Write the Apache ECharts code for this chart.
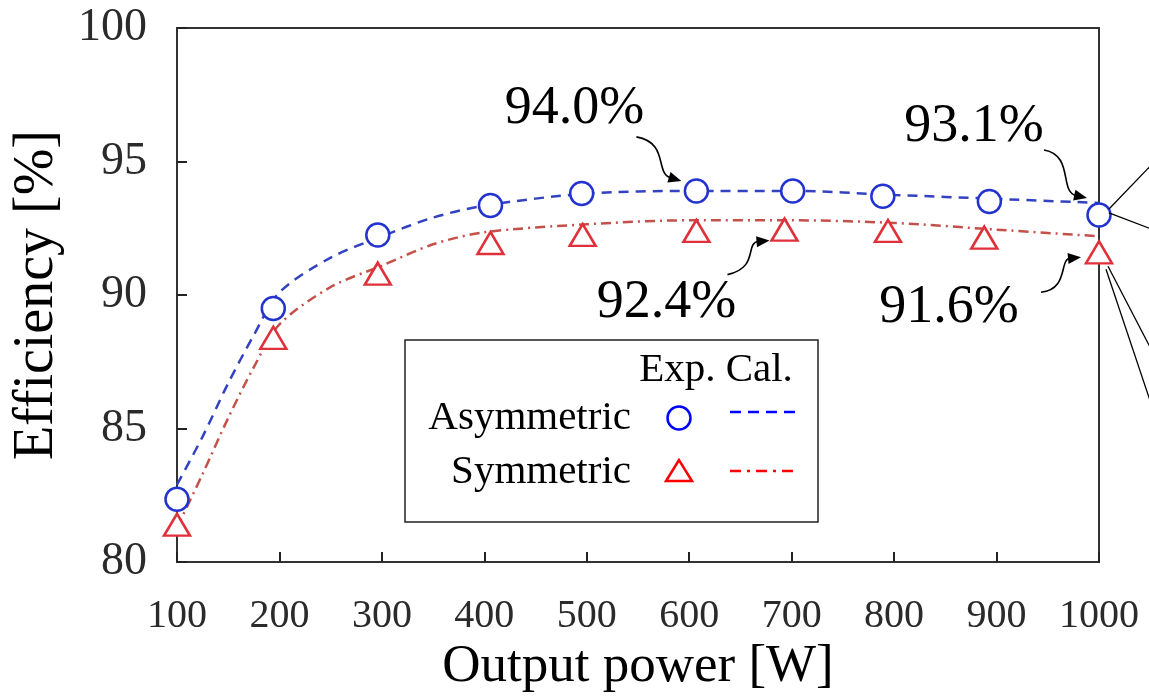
<!DOCTYPE html>
<html>
<head>
<meta charset="utf-8">
<script src="https://cdn.jsdelivr.net/npm/echarts@6/dist/echarts.min.js"></script>
<style>
body { margin: 0; background: #fff; }
#main { width: 1149px; height: 699px; }
</style>
</head>
<body>
<div id="main"></div>
<script>
// measured points (Exp.)
const asymExpX = [100, 194, 296, 406, 495, 607, 701, 789, 893, 1000];
const asymExp = [82.35, 89.5, 92.25, 93.35, 93.8, 93.9, 93.9, 93.7, 93.5, 93.0];
const symExpX = [100, 194, 296, 406, 496, 607, 693, 794, 888, 1000];
const symExp = [81.4, 88.4, 90.8, 91.95, 92.25, 92.4, 92.45, 92.4, 92.15, 91.6];

// calculated curves (Cal.)
const calcX = [100, 125, 150, 175, 200, 250, 300, 350, 400, 500, 600, 700, 800, 900, 1000];
const asymCalc = [82.9, 84.7, 86.7, 88.5, 90.1, 91.4, 92.2, 92.9, 93.35, 93.8, 93.9, 93.9, 93.75, 93.6, 93.45];
const symCalc = [81.3, 83.3, 85.4, 87.3, 88.9, 90.3, 91.1, 91.9, 92.35, 92.65, 92.8, 92.8, 92.7, 92.45, 92.2];

const xTicks = [100, 200, 300, 400, 500, 600, 700, 800, 900, 1000];
const yTicks = [80, 85, 90, 95, 100];

const FONT = '"Liberation Serif", "Times New Roman", serif';
const pairs = (xs, ys) => xs.map((x, i) => [x, ys[i]]);

let myChart = echarts.init(document.getElementById('main'));

myChart.setOption({
  animation: false,
  backgroundColor: '#fff',
  grid: {
    left: 177, right: 50, top: 28, bottom: 134,
    show: true, borderColor: '#333', borderWidth: 2
  },
  xAxis: {
    type: 'value',
    min: xTicks[0], max: xTicks[xTicks.length - 1], interval: 100,
    name: 'Output power [W]',
    nameLocation: 'middle', nameGap: 70,
    nameTextStyle: { fontFamily: FONT, fontSize: 53, color: '#000' },
    axisLine: { lineStyle: { color: '#333', width: 2 } },
    axisTick: { inside: true, length: 10, lineStyle: { color: '#222', width: 2 } },
    axisLabel: {
      fontFamily: FONT, fontSize: 40, color: '#2a2a2a', margin: 34,
      formatter: v => String(v)
    },
    splitLine: { show: false }
  },
  yAxis: {
    type: 'value',
    min: yTicks[0], max: yTicks[yTicks.length - 1], interval: 5,
    name: 'Efficiency [%]',
    nameLocation: 'middle', nameGap: 112, nameRotate: 90,
    nameTextStyle: { fontFamily: FONT, fontSize: 56, color: '#000' },
    axisLine: { lineStyle: { color: '#333', width: 2 } },
    axisTick: { inside: true, length: 10, lineStyle: { color: '#222', width: 2 } },
    axisLabel: {
      fontFamily: FONT, fontSize: 46, color: '#2a2a2a', margin: 30,
      formatter: v => String(v)
    },
    splitLine: { show: false }
  },
  series: [
    {
      name: 'Asymmetric Cal.', type: 'line', smooth: 0.3, showSymbol: false,
      data: pairs(calcX, asymCalc),
      lineStyle: { color: '#3342c0', width: 2.5, type: [10, 7] },
      z: 2
    },
    {
      name: 'Symmetric Cal.', type: 'line', smooth: 0.3, showSymbol: false,
      data: pairs(calcX, symCalc),
      lineStyle: { color: '#c4504a', width: 2.5, type: [10, 5, 2, 5] },
      z: 2
    },
    {
      name: 'Asymmetric Exp.', type: 'scatter', symbol: 'circle', symbolSize: 23,
      data: pairs(asymExpX, asymExp),
      itemStyle: { color: '#fff', borderColor: '#2233d0', borderWidth: 2.5, opacity: 1 },
      z: 5
    },
    {
      name: 'Symmetric Exp.', type: 'scatter', symbol: 'triangle', symbolSize: [26, 22],
      data: pairs(symExpX, symExp),
      itemStyle: { color: '#fff', borderColor: '#e0303a', borderWidth: 2.5, opacity: 1 },
      z: 5
    }
  ]
});

// annotations: curved arrows + value texts, anchored on data points
function px(x, y) { return myChart.convertToPixel({ gridIndex: 0 }, [x, y]); }

function arrow(P, s, c1, c2, e) {
  const ex = P[0] + e[0], ey = P[1] + e[1];
  const cx = P[0] + c2[0], cy = P[1] + c2[1];
  let dx = ex - cx, dy = ey - cy;
  const len = Math.sqrt(dx * dx + dy * dy);
  dx /= len; dy /= len;
  const bx = ex - dx * 13, by = ey - dy * 13;
  return [
    {
      type: 'bezierCurve', z: 10,
      shape: {
        x1: P[0] + s[0], y1: P[1] + s[1],
        cpx1: P[0] + c1[0], cpy1: P[1] + c1[1],
        cpx2: cx, cpy2: cy,
        x2: bx + dx * 2, y2: by + dy * 2
      },
      style: { stroke: '#000', lineWidth: 1.6, fill: null }
    },
    {
      type: 'polygon', z: 10,
      shape: { points: [[ex, ey], [bx - dy * 5.5, by + dx * 5.5], [bx + dy * 5.5, by - dx * 5.5]] },
      style: { fill: '#000' }
    }
  ];
}

function label(P, d, txt) {
  return {
    type: 'text', z: 10, x: P[0] + d[0], y: P[1] + d[1],
    style: {
      text: txt, fontFamily: FONT, fontSize: 54, fill: '#000',
      align: 'center', verticalAlign: 'middle',
      textAlign: 'center', textVerticalAlign: 'middle'
    }
  };
}

function seg(P, a, b) {
  return {
    type: 'line', z: 10,
    shape: { x1: P[0] + a[0], y1: P[1] + a[1], x2: P[0] + b[0], y2: P[1] + b[1] },
    style: { stroke: '#000', lineWidth: 1.3 }
  };
}

const pA600 = px(asymExpX[5], asymExp[5]);
const pA1000 = px(asymExpX[9], asymExp[9]);
const pS700 = px(symExpX[6], symExp[6]);
const pS1000 = px(symExpX[9], symExp[9]);

let g = [];
g = g.concat(arrow(pA600, [-60, -54], [-27, -48], [-42, -18], [-15, -10]));
g.push(label(pA600, [-122, -82], '94.0%'));
g = g.concat(arrow(pA1000, [-55, -65], [-25, -60], [-40, -23], [-12, -17]));
g.push(label(pA1000, [-125, -88], '93.1%'));
g = g.concat(arrow(pS700, [-57, 45], [-25, 38], [-40, 13], [-15, 11]));
g.push(label(pS700, [-118, 73], '92.4%'));
g = g.concat(arrow(pS1000, [-58, 40], [-30, 37], [-40, 7], [-18, 5]));
g.push(label(pS1000, [-150, 55], '91.6%'));

g.push(seg(pA1000, [10, -6], [60, -58]));
g.push(seg(pA1000, [10, -2], [60, 17]));
g.push(seg(pS1000, [9, 14], [60, 112]));
g.push(seg(pS1000, [7, 17], [55, 160]));

// legend box
const legText = (x, y, txt, align) => ({
  type: 'text', z: 20, x: x, y: y,
  style: {
    text: txt, fontFamily: FONT, fontSize: 41, fill: '#000',
    align: align, verticalAlign: 'middle', textAlign: align, textVerticalAlign: 'middle'
  }
});
g.push({
  type: 'rect', z: 15,
  shape: { x: 405, y: 340, width: 413, height: 182 },
  style: { fill: '#fff', stroke: '#222', lineWidth: 1.5 }
});
g.push(legText(716, 370, 'Exp. Cal.', 'center'));
g.push(legText(631, 418, 'Asymmetric', 'right'));
g.push(legText(631, 472, 'Symmetric', 'right'));
g.push({
  type: 'circle', z: 20, shape: { cx: 679, cy: 418, r: 11.5 },
  style: { fill: '#fff', stroke: '#0000ff', lineWidth: 2.5 }
});
g.push({
  type: 'polygon', z: 20, shape: { points: [[679, 460], [666, 481], [692, 481]] },
  style: { fill: '#fff', stroke: '#ff0000', lineWidth: 2.5 }
});
g.push({
  type: 'line', z: 20, shape: { x1: 730, y1: 412, x2: 796, y2: 412 },
  style: { stroke: '#0000ff', lineWidth: 2.5, lineDash: [11, 7] }
});
g.push({
  type: 'line', z: 20, shape: { x1: 730, y1: 471, x2: 796, y2: 471 },
  style: { stroke: '#ff0000', lineWidth: 2.5, lineDash: [11, 6, 3, 6] }
});

myChart.setOption({ graphic: { elements: g } });
</script>
</body>
</html>
